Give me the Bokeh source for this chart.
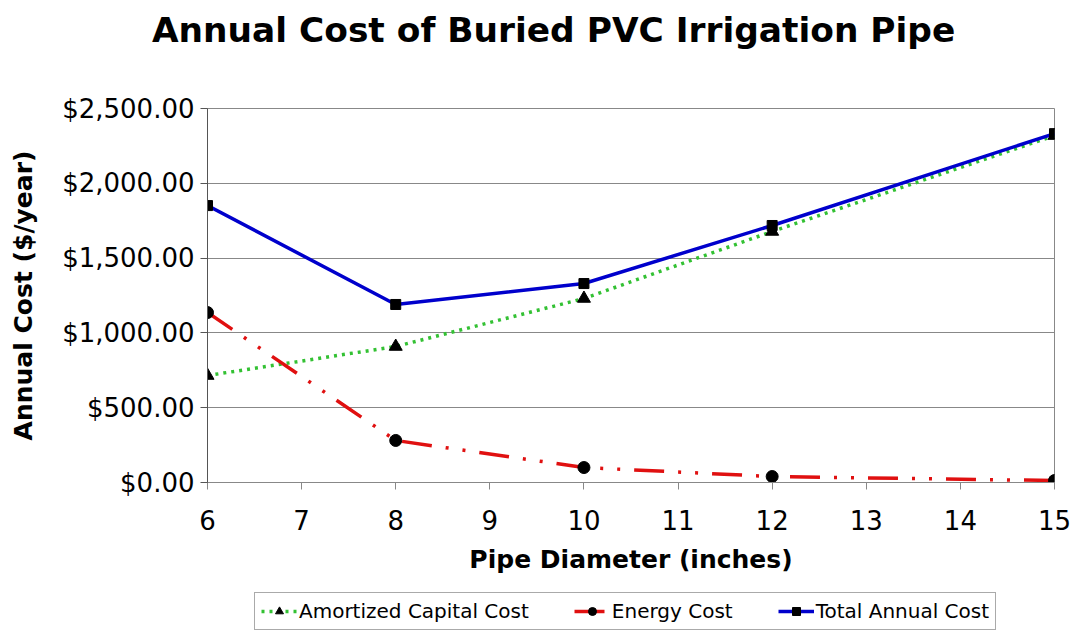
from bokeh.plotting import figure
from bokeh.models import (NumeralTickFormatter, Legend, LegendItem, Div,
                          FixedTicker, ColumnDataSource)
from bokeh.layouts import column
from bokeh.embed import file_html
from bokeh.resources import INLINE

diameter = [6, 8, 10, 12, 15]
amortized = [715, 909, 1230, 1678, 2319]
energy = [1136, 281, 100, 40, 13]
total = [1851, 1190, 1330, 1718, 2332]
series_names = ["Amortized Capital Cost", "Energy Cost", "Total Annual Cost"]

FONT = "DejaVu Sans"
GREEN, RED, BLUE = "#33c133", "#e01010", "#0000cc"
DASH_A, DASH_E = "3 5", "30 14 3 14 3 14"

title = Div(text="Annual Cost of Buried PVC Irrigation Pipe", width=1085, height=60,
            margin=0,
            styles={"font-family": FONT, "font-size": "34.4px", "font-weight": "bold",
                    "color": "black", "line-height": "60px", "padding-left": "152px",
                    "white-space": "nowrap"})

p = figure(frame_width=847, frame_height=374, output_backend="svg", toolbar_location=None,
           x_range=(6, 15), y_range=(0, 2500),
           min_border_left=207, min_border_right=31, min_border_top=48,
           min_border_bottom=108)

src = ColumnDataSource(dict(x=diameter, a=amortized, e=energy, t=total))

p.line("x", "a", source=src, line_color=GREEN, line_width=3.5, line_dash=DASH_A)
p.scatter("x", "a", source=src, marker="triangle", size=13, color="black")
p.line("x", "e", source=src, line_color=RED, line_width=3.5, line_dash=DASH_E)
p.scatter("x", "e", source=src, marker="circle", size=12, color="black")
p.line("x", "t", source=src, line_color=BLUE, line_width=3.5)
p.scatter("x", "t", source=src, marker="square", size=10, color="black")

p.yaxis.formatter = NumeralTickFormatter(format="$0,0.00")
p.yaxis.ticker = FixedTicker(ticks=[0, 500, 1000, 1500, 2000, 2500])
p.xaxis.ticker = FixedTicker(ticks=list(range(6, 16)))

for ax in (p.xaxis[0], p.yaxis[0]):
    ax.major_label_text_font = FONT
    ax.major_label_text_font_size = "26px"
    ax.major_label_text_color = "black"
    ax.axis_label_text_font = FONT
    ax.axis_label_text_font_size = "25px"
    ax.axis_label_text_font_style = "bold"
    ax.axis_label_text_color = "black"
    ax.major_tick_in = 0
    ax.major_tick_out = 7
    ax.minor_tick_in = 0
    ax.minor_tick_out = 0
    ax.axis_line_color = "#555555"
    ax.major_tick_line_color = "#555555"

p.xaxis.axis_label = "Pipe Diameter (inches)"
p.yaxis.axis_label = "Annual Cost ($/year)"
p.yaxis.major_label_standoff = 6
p.yaxis.axis_label_standoff = 21
p.xaxis.major_label_standoff = 20
p.xaxis.axis_label_standoff = 12
p.xaxis.axis_line_color = "#888888"
p.xaxis.major_tick_line_color = "#888888"

p.xgrid.grid_line_color = None
p.ygrid.grid_line_color = "#888888"
p.ygrid.grid_line_width = 1
p.outline_line_color = "#888888"
p.background_fill_color = "white"
p.border_fill_color = "white"

# legend strip below the chart (its frame is aligned with the chart's frame);
# its renderers use the same data, which lies outside this strip's ranges
lg = figure(width=1085, height=40, output_backend="svg", toolbar_location=None,
            x_range=(0, 1), y_range=(-1, 0), x_axis_type=None, y_axis_type=None,
            min_border=0)
lg.grid.visible = False
lg.outline_line_color = None
ra = [lg.line("x", "a", source=src, line_color=GREEN, line_width=3.5, line_dash=DASH_A),
      lg.scatter("x", "a", source=src, marker="triangle", size=13, color="black")]
re_ = [lg.line("x", "e", source=src, line_color=RED, line_width=3.5, line_dash=DASH_E),
       lg.scatter("x", "e", source=src, marker="circle", size=12, color="black")]
rt = [lg.line("x", "t", source=src, line_color=BLUE, line_width=3.5),
      lg.scatter("x", "t", source=src, marker="square", size=10, color="black")]

legend = Legend(items=[
    LegendItem(label=series_names[0], renderers=ra),
    LegendItem(label=series_names[1], renderers=re_),
    LegendItem(label=series_names[2], renderers=rt),
], orientation="horizontal", location=(47, 0),
    label_text_font=FONT, label_text_font_size="20px", label_text_color="black",
    border_line_color="#555555", border_line_width=1,
    glyph_width=36, spacing=45, padding=6, margin=0,
    label_standoff=2)
lg.add_layout(legend, "center")

layout = column(title, p, lg, spacing=0)
open("out.html", "w").write(file_html(layout, INLINE))
